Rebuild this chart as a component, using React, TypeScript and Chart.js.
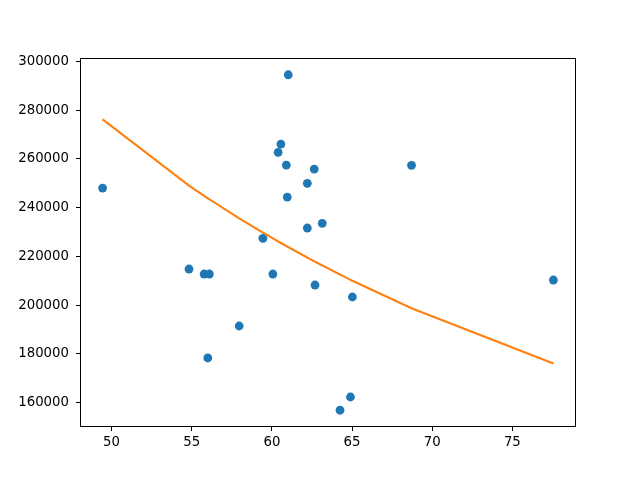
import React, { useEffect, useRef } from "react";
import { Chart, registerables } from "chart.js";

Chart.register(...registerables);

// Scatter observations
const pointX = [49.44, 54.83, 55.77, 56.1, 56.0, 57.96, 59.44, 60.06, 60.39, 60.56, 60.9, 60.96, 61.02, 62.21, 62.21, 62.64, 62.69, 63.14, 64.25, 64.9, 65.02, 68.71, 77.56];
const pointY = [248040, 214820, 212770, 212770, 178330, 191450, 227410, 212770, 262680, 266090, 257470, 244350, 294500, 249970, 231640, 255830, 208260, 233560, 156900, 162330, 203340, 257350, 210310];

// Fitted curve, in the order the values were drawn
const fitX = [49.44, 54.83, 56.1, 55.77, 56.0, 57.96, 59.44, 60.96, 60.06, 60.56, 62.21, 60.39, 62.64, 61.02, 63.14, 60.9, 62.21, 64.25, 62.69, 64.9, 65.02, 68.71, 77.56];
const fitY = [276190, 249040, 243400, 244850, 243840, 235590, 229730, 224000, 227360, 225480, 219500, 226110, 217990, 223780, 216260, 224220, 219500, 212530, 217820, 210400, 210010, 198730, 176060];

const xTicks = [50, 55, 60, 65, 70, 75];
const yTicks = [160000, 180000, 200000, 220000, 240000, 260000, 280000, 300000];

const FONT = { family: "'DejaVu Sans', sans-serif", size: 13.3 };

const framePlugin = {
  id: "frame",
  afterDatasetsDraw(chart: any) {
    const { ctx, chartArea } = chart;
    ctx.save();
    ctx.strokeStyle = "#000";
    ctx.lineWidth = 1;
    ctx.strokeRect(
      Math.round(chartArea.left) + 0.5,
      Math.round(chartArea.top) + 0.5,
      Math.round(chartArea.right - chartArea.left) - 1,
      Math.round(chartArea.bottom - chartArea.top) - 1
    );
    ctx.restore();
  },
};

export default function App() {
  const ref = useRef<HTMLCanvasElement | null>(null);

  useEffect(() => {
    if (!ref.current) return;
    const chart = new Chart(ref.current, {
      type: "scatter",
      data: {
        datasets: [
          {
            type: "line",
            data: fitX.map((x, i) => ({ x, y: fitY[i] })),
            borderColor: "#ff7f0e",
            borderWidth: 2,
            pointRadius: 0,
            fill: false,
            tension: 0,
            order: 0,
          } as any,
          {
            type: "scatter",
            data: pointX.map((x, i) => ({ x, y: pointY[i] })),
            backgroundColor: "#1f77b4",
            borderColor: "#1f77b4",
            borderWidth: 0,
            pointRadius: 4.4,
            pointHoverRadius: 4.4,
            order: 1,
          },
        ],
      },
      options: {
        animation: false,
        responsive: false,
        events: [],
        layout: { padding: { left: 0, top: 58, right: 64, bottom: 0 } },
        plugins: { legend: { display: false }, tooltip: { enabled: false } },
        scales: {
          x: {
            type: "linear",
            min: 48.03,
            max: 78.97,
            afterFit: (s: any) => {
              s.height = 53;
            },
            afterBuildTicks: (s: any) => {
              s.ticks = xTicks.map((v) => ({ value: v }));
            },
            grid: { drawOnChartArea: false, drawTicks: true, tickLength: 4, tickColor: "#000" },
            border: { display: false },
            ticks: {
              color: "#000",
              font: FONT,
              padding: 4,
              maxRotation: 0,
              callback: (v: any) => String(v),
            },
          },
          y: {
            type: "linear",
            min: 150020,
            max: 301380,
            afterFit: (s: any) => {
              s.width = 80;
            },
            afterBuildTicks: (s: any) => {
              s.ticks = yTicks.map((v) => ({ value: v }));
            },
            grid: { drawOnChartArea: false, drawTicks: true, tickLength: 4, tickColor: "#000" },
            border: { display: false },
            ticks: {
              color: "#000",
              font: FONT,
              padding: 7,
              callback: (v: any) => String(v),
            },
          },
        },
      },
      plugins: [framePlugin],
    });
    return () => chart.destroy();
  }, []);

  return (
    <div style={{ position: "fixed", left: 0, top: 0, width: 640, height: 480, background: "#fff" }}>
      <canvas ref={ref} width={640} height={480} style={{ width: 640, height: 480 }} />
    </div>
  );
}
